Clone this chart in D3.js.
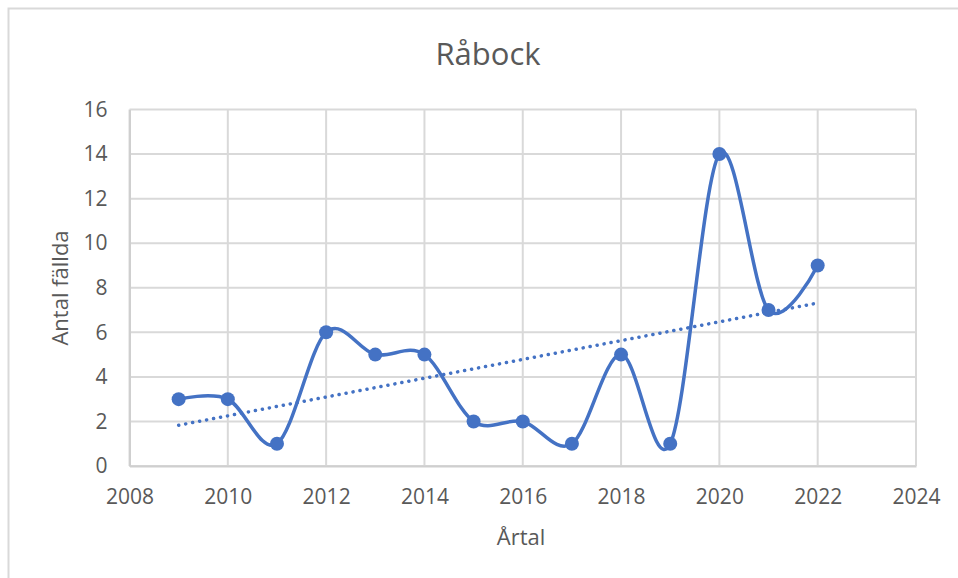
<!DOCTYPE html>
<html>
<head>
<meta charset="utf-8">
<script src="https://cdn.jsdelivr.net/npm/d3@7"></script>
<style>
body { margin: 0; background: #fff; }
text { font-family: "Open Sans", "Noto Sans", sans-serif; fill: #595959; }
</style>
</head>
<body>
<svg id="chart" width="958" height="578"></svg>
<script>
// data
var years = [2009, 2010, 2011, 2012, 2013, 2014, 2015, 2016, 2017, 2018, 2019, 2020, 2021, 2022];
var counts = [3, 3, 1, 6, 5, 5, 2, 2, 1, 5, 1, 14, 7, 9];
var xTicks = [2008, 2010, 2012, 2014, 2016, 2018, 2020, 2022, 2024];
var yTicks = [0, 2, 4, 6, 8, 10, 12, 14, 16];

var width = 958, height = 578;
var plot = {left: 129.5, right: 916, top: 109.5, bottom: 466};
var blue = "#4472C4";

var svg = d3.select("#chart");

// chart frame
svg.append("rect")
	.attr("x", 8.5).attr("y", 8.5)
	.attr("width", 1000).attr("height", 1000)
	.attr("fill", "none").attr("stroke", "#d9d9d9").attr("stroke-width", 2);

var x = d3.scaleLinear().domain([2008, 2024]).range([plot.left, plot.right]);
var y = d3.scaleLinear().domain([0, 16]).range([plot.bottom, plot.top]);

// gridlines
svg.append("g").selectAll("line.v").data(xTicks).enter().append("line")
	.attr("x1", function(d) { return x(d); }).attr("x2", function(d) { return x(d); })
	.attr("y1", plot.top).attr("y2", plot.bottom)
	.attr("stroke", "#d9d9d9").attr("stroke-width", 2);
svg.append("g").selectAll("line.h").data(yTicks).enter().append("line")
	.attr("x1", plot.left).attr("x2", plot.right)
	.attr("y1", function(d) { return y(d); }).attr("y2", function(d) { return y(d); })
	.attr("stroke", "#d9d9d9").attr("stroke-width", 2);

// axes
var xAxis = d3.axisBottom(x).tickValues(xTicks).tickFormat(d3.format("d")).tickSize(0).tickPadding(23);
var gx = svg.append("g").attr("transform", "translate(0," + plot.bottom + ")").call(xAxis);
gx.select(".domain").attr("stroke", "#cfcfcf").attr("stroke-width", 2);
gx.selectAll("text").style("font-size", "21px").attr("fill", "#595959");

var yAxis = d3.axisLeft(y).tickValues(yTicks).tickSize(0).tickPadding(22);
var gy = svg.append("g").attr("transform", "translate(" + plot.left + ",0)").call(yAxis);
gy.select(".domain").attr("stroke", "#cfcfcf").attr("stroke-width", 2);
gy.selectAll("text").style("font-size", "21px").attr("fill", "#595959");

// trendline (least squares)
var mx = d3.mean(years), my = d3.mean(counts);
var sxy = d3.sum(years, function(v, i) { return (v - mx) * (counts[i] - my); });
var sxx = d3.sum(years, function(v) { return (v - mx) * (v - mx); });
var slope = sxy / sxx, icpt = my - slope * mx;
var x0 = years[0], x1 = years[years.length - 1];
svg.append("line")
	.attr("x1", x(x0)).attr("y1", y(icpt + slope * x0))
	.attr("x2", x(x1)).attr("y2", y(icpt + slope * x1))
	.attr("stroke", blue).attr("stroke-width", 3.5)
	.attr("stroke-dasharray", "0.1 7").attr("stroke-linecap", "round");

// smoothed series
var pts = years.map(function(v, i) { return [v, counts[i]]; });
var line = d3.line()
	.x(function(d) { return x(d[0]); })
	.y(function(d) { return y(d[1]); })
	.curve(d3.curveCardinal.tension(0));
svg.append("path").datum(pts)
	.attr("d", line)
	.attr("fill", "none").attr("stroke", blue).attr("stroke-width", 3.5)
	.attr("stroke-linejoin", "round");

svg.append("g").selectAll("circle").data(pts).enter().append("circle")
	.attr("cx", function(d) { return x(d[0]); })
	.attr("cy", function(d) { return y(d[1]); })
	.attr("r", 7)
	.attr("fill", blue);

// titles
svg.append("text").attr("x", 488).attr("y", 65)
	.attr("text-anchor", "middle").style("font-size", "31px").text("Råbock");
svg.append("text").attr("x", 521).attr("y", 545)
	.attr("text-anchor", "middle").style("font-size", "22px").text("Årtal");
svg.append("text").attr("transform", "translate(68,288) rotate(-90)")
	.attr("text-anchor", "middle").style("font-size", "22px").text("Antal fällda");
</script>
</body>
</html>
